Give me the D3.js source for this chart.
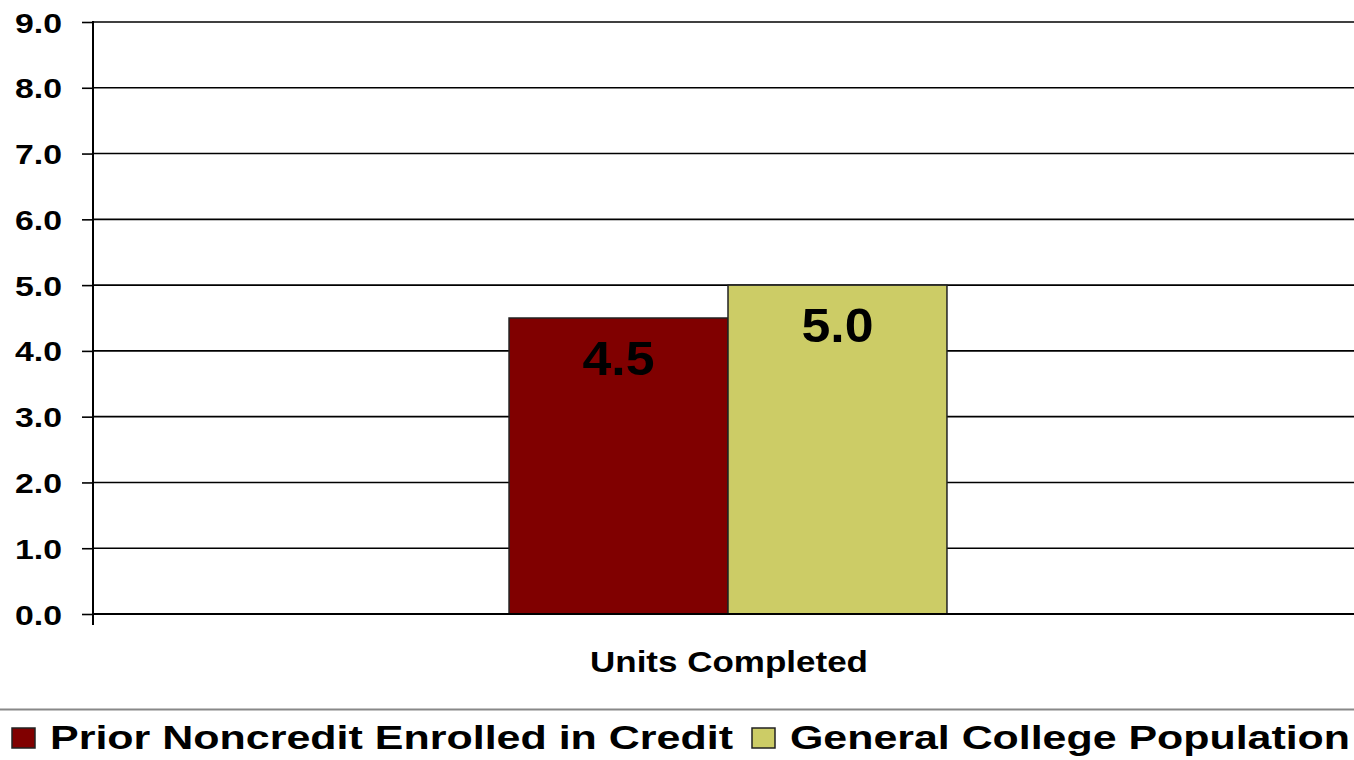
<!DOCTYPE html>
<html>
<head>
<meta charset="utf-8">
<script src="https://cdn.jsdelivr.net/npm/d3@7"></script>
<style>
  html, body { margin: 0; padding: 0; background: #fff; }
  svg { display: block; font-family: "Liberation Sans", Arial, sans-serif; }
</style>
</head>
<body>
<svg id="chart" width="1354" height="760"></svg>
<script>
// Average units completed, by student group
const categories = ["Units Completed"];
const seriesNames = ["Prior Noncredit Enrolled in Credit", "General College Population"];
const seriesValues = [4.5, 5.0];
const seriesColors = ["#800000", "#CCCC66"];
const yTicks = [0, 1, 2, 3, 4, 5, 6, 7, 8, 9];

const svg = d3.select("#chart");
const plotLeft = 93, plotRight = 1363, plotTop = 22, plotBottom = 614;

const y = d3.scaleLinear().domain([0, 9]).range([plotBottom, plotTop]);
const x0 = d3.scaleBand().domain(categories).range([plotLeft, plotRight]).paddingInner(0).paddingOuter(0.95);
const x1 = d3.scaleBand().domain(seriesNames).range([0, x0.bandwidth()]);

// wide bold lettering: stretch a text node horizontally to a given width
function widen(sel, w) {
  sel.attr("textLength", w).attr("lengthAdjust", "spacingAndGlyphs");
}

// horizontal gridlines
svg.append("g")
  .selectAll("line")
  .data(yTicks)
  .join("line")
  .attr("x1", plotLeft).attr("x2", 1354)
  .attr("y1", d => y(d)).attr("y2", d => y(d))
  .attr("stroke", "#000").attr("stroke-width", 1.6);

// y axis
const yAxis = svg.append("g")
  .attr("transform", `translate(${plotLeft},0)`)
  .call(d3.axisLeft(y).tickValues(yTicks).tickFormat(d3.format(".1f")).tickSize(11).tickPadding(20));
yAxis.select(".domain").remove();
yAxis.selectAll(".tick line").attr("stroke", "#000").attr("stroke-width", 1.6);
yAxis.selectAll(".tick text")
  .attr("fill", "#000").attr("font-size", 28).attr("font-weight", "bold")
  .attr("font-family", "Liberation Sans, Arial, sans-serif")
  .attr("dy", "0.36em")
  .call(widen, 47);
svg.append("line")
  .attr("x1", plotLeft).attr("x2", plotLeft).attr("y1", y(9) - 1).attr("y2", plotBottom + 11)
  .attr("stroke", "#000").attr("stroke-width", 2);

// bars
const groups = svg.append("g")
  .selectAll("g")
  .data(categories)
  .join("g")
  .attr("transform", d => `translate(${x0(d)},0)`);

const barData = seriesNames.map((n, i) => ({ name: n, value: seriesValues[i], color: seriesColors[i] }));

groups.selectAll("rect")
  .data(barData)
  .join("rect")
  .attr("x", d => x1(d.name))
  .attr("y", d => y(d.value))
  .attr("width", x1.bandwidth())
  .attr("height", d => plotBottom - y(d.value))
  .attr("fill", d => d.color)
  .attr("stroke", "#222").attr("stroke-width", 1.5);

groups.selectAll("text.val")
  .data(barData)
  .join("text")
  .attr("class", "val")
  .attr("x", d => x1(d.name) + x1.bandwidth() / 2)
  .attr("y", d => y(d.value) + 56.5)
  .attr("text-anchor", "middle")
  .attr("font-size", 48).attr("font-weight", "bold").attr("fill", "#000")
  .text(d => d3.format(".1f")(d.value))
  .call(widen, 72);

// baseline
svg.append("line")
  .attr("x1", plotLeft).attr("x2", 1354).attr("y1", plotBottom).attr("y2", plotBottom)
  .attr("stroke", "#000").attr("stroke-width", 2);

// category label
svg.append("g").selectAll("text")
  .data(categories)
  .join("text")
  .attr("x", d => x0(d) + x0.bandwidth() / 2 + 1)
  .attr("y", 672)
  .attr("text-anchor", "middle")
  .attr("font-size", 30).attr("font-weight", "bold")
  .text(d => d)
  .call(widen, 278);

// separator above legend
svg.append("line")
  .attr("x1", 0).attr("x2", 1354).attr("y1", 709.5).attr("y2", 709.5)
  .attr("stroke", "#888").attr("stroke-width", 2);

// legend
const legendX = [12, 752];
const legendW = [683, 560];
const legend = svg.append("g").selectAll("g")
  .data(barData)
  .join("g")
  .attr("transform", (d, i) => `translate(${legendX[i]},728)`);
legend.append("rect")
  .attr("width", 23).attr("height", 20)
  .attr("fill", d => d.color).attr("stroke", "#222").attr("stroke-width", 1.5);
legend.append("text")
  .attr("x", 38).attr("y", 21)
  .attr("font-size", 34).attr("font-weight", "bold")
  .text(d => d.name)
  .each(function (d, i) { d3.select(this).call(widen, legendW[i]); });
</script>
</body>
</html>
